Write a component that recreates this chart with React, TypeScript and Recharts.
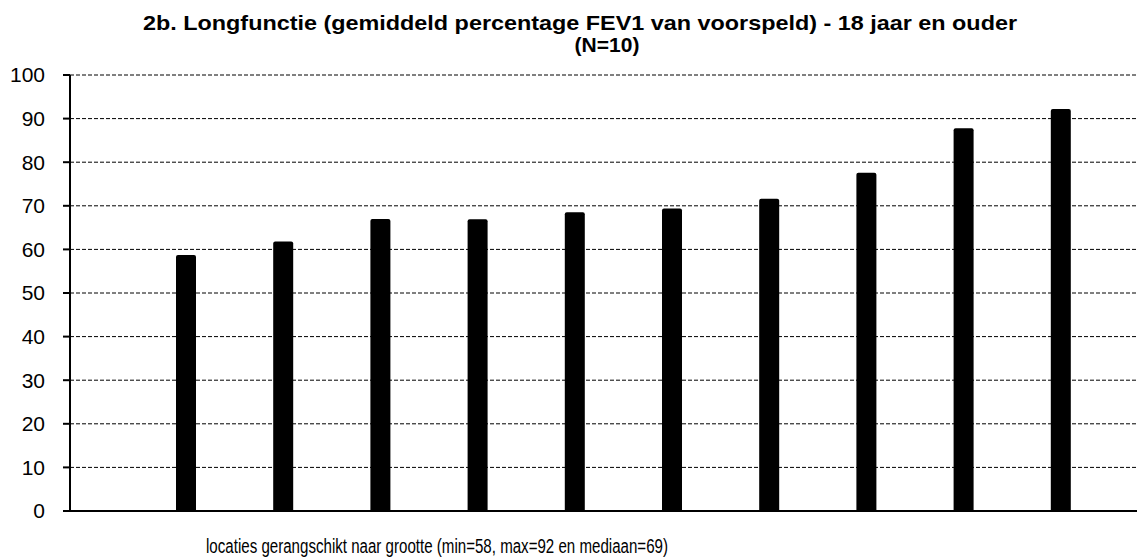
import { BarChart, Bar, XAxis, YAxis, CartesianGrid } from 'recharts';

const locations = ['1', '2', '3', '4', '5', '6', '7', '8', '9', '10'];
const fev1Values = [58.7, 61.8, 67.0, 66.9, 68.5, 69.4, 71.6, 77.6, 87.8, 92.2];
const yTicks = [0, 10, 20, 30, 40, 50, 60, 70, 80, 90, 100];

const titleLine1 = '2b. Longfunctie (gemiddeld percentage  FEV1 van voorspeld) - 18 jaar en ouder';
const titleLine2 = '(N=10)';
const xAxisTitle = 'locaties gerangschikt naar grootte (min=58, max=92 en mediaan=69)';

const data = locations.map((name, i) => ({ name, value: fev1Values[i] }));

const font = '"Liberation Sans", Arial, sans-serif';

export default function App() {
    return (
        <div style={{ position: 'absolute', left: 0, top: 0, width: 1137, height: 560, background: '#fff' }}>
            <BarChart width={1137} height={560} data={data} margin={{ top: 75, right: 0, left: 0, bottom: 48 }}>
                <CartesianGrid vertical={false} stroke="#000" strokeDasharray="4 2" />
                <XAxis
                    dataKey="name"
                    tick={false}
                    tickLine={false}
                    height={1}
                    padding={{ left: 67, right: 28 }}
                    axisLine={{ stroke: '#000', strokeWidth: 2 }}
                />
                <YAxis
                    domain={[0, 100]}
                    ticks={yTicks}
                    interval={0}
                    width={70}
                    tickSize={7}
                    tickMargin={18}
                    tick={{ fill: '#000', fontSize: 21, fontFamily: font }}
                    tickLine={{ stroke: '#000', strokeWidth: 2 }}
                    axisLine={{ stroke: '#000', strokeWidth: 2 }}
                />
                <Bar dataKey="value" fill="#000" barSize={20} radius={[2, 2, 0, 0]} isAnimationActive={false} />
            </BarChart>
            <svg width={1137} height={560} style={{ position: 'absolute', left: 0, top: 0, pointerEvents: 'none' }}>
                <text x={580} y={30} textAnchor="middle" fontFamily={font} fontWeight="bold" fontSize={21}
                    textLength={874} lengthAdjust="spacingAndGlyphs">{titleLine1}</text>
                <text x={607} y={52} textAnchor="middle" fontFamily={font} fontWeight="bold" fontSize={21}>{titleLine2}</text>
                <text x={437} y={553} textAnchor="middle" fontFamily={font} fontSize={20}
                    textLength={462} lengthAdjust="spacingAndGlyphs">{xAxisTitle}</text>
            </svg>
        </div>
    );
}
